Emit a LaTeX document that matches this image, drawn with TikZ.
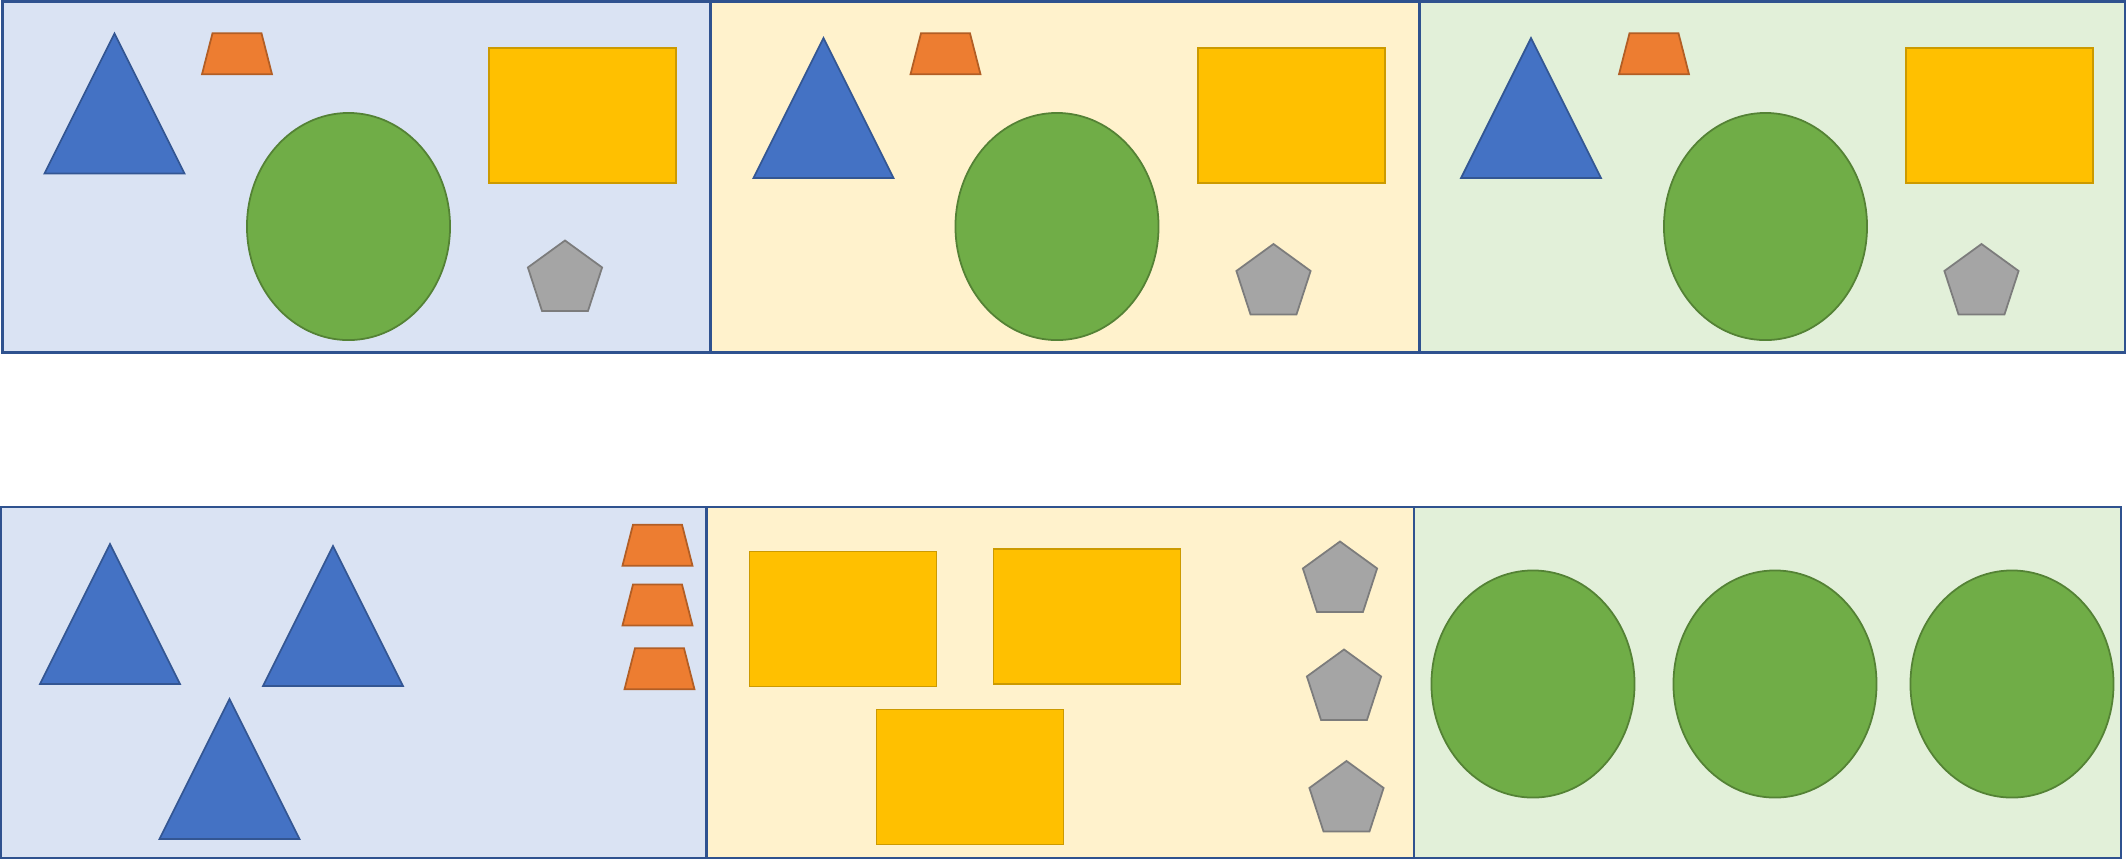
\documentclass[tikz,border=0pt]{standalone}
\usepackage{xcolor}
\usepackage{tikz}
\usetikzlibrary{shapes.geometric}

\definecolor{panelblue}{HTML}{DAE3F3}
\definecolor{panelyellow}{HTML}{FFF2CC}
\definecolor{panelgreen}{HTML}{E2F0D9}
\definecolor{frameblue}{HTML}{2F528F}
\definecolor{triblue}{HTML}{4472C4}
\definecolor{traporange}{HTML}{ED7D31}
\definecolor{ovalgreen}{HTML}{70AD47}
\definecolor{boxgold}{HTML}{FFC000}
\definecolor{pentgray}{HTML}{A5A5A5}

\begin{document}
\begin{tikzpicture}[
    x=0.01cm, y=-0.01cm,
    panel/.style={draw=frameblue, line width=0.8pt},
    shapeline/.style={line width=0.5pt},
    oval/.style={ellipse, draw=ovalgreen!75!black, fill=ovalgreen, shapeline, minimum width=2.03cm, minimum height=2.27cm, inner sep=0pt, outer sep=0pt},
    box/.style={rectangle, draw=boxgold!80!black, fill=boxgold, shapeline, minimum width=1.87cm, minimum height=1.35cm, inner sep=0pt, outer sep=0pt},
    penta/.style={regular polygon, regular polygon sides=5, draw=pentgray!75!black, fill=pentgray, shapeline, minimum size=0.78cm, inner sep=0pt, outer sep=0pt},
    tri/.pic={\path[draw=triblue!75!black, fill=triblue, shapeline] (-70,70) -- (0,-70) -- (70,70) -- cycle;},
    trap/.pic={\path[draw=traporange!75!black, fill=traporange, shapeline] (-35,20.5) -- (-24.5,-20.5) -- (24.5,-20.5) -- (35,20.5) -- cycle;}
]
\useasboundingbox (0,0) rectangle (2126,859);

% top row
\draw[panel, fill=panelblue] (2.5,1.5) rectangle (710.5,352.5);
\draw[panel, fill=panelyellow] (710.5,1.5) rectangle (1419.5,352.5);
\draw[panel, fill=panelgreen] (1419.5,1.5) rectangle (2125,352.5);

\pic (tri1) at (114.5,103.5) {tri};
\pic (trap1) at (237,53.8) {trap};
\node[oval] (oval1) at (348.5,226.5) {};
\node[box] (box1) at (582.5,115.8) {};
\node[penta] (pent1) at (565,279.5) {};

\pic (tri2) at (823.5,108) {tri};
\pic (trap2) at (945.5,53.8) {trap};
\node[oval] (oval2) at (1057,226.5) {};
\node[box] (box2) at (1291.5,115.8) {};
\node[penta] (pent2) at (1273.5,283) {};

\pic (tri3) at (1531,108) {tri};
\pic (trap3) at (1654,53.8) {trap};
\node[oval] (oval3) at (1765.5,226.5) {};
\node[box] (box3) at (1999.5,115.8) {};
\node[penta] (pent3) at (1981.5,283) {};

% bottom row
\draw[panel, fill=panelblue] (0.8,507) rectangle (706.5,858);
\draw[panel, fill=panelyellow] (706.5,507) rectangle (1414,858);
\draw[panel, fill=panelgreen] (1414,507) rectangle (2121,858);

\pic (tri4) at (110,614) {tri};
\pic (tri5) at (333,616) {tri};
\pic (tri6) at (229.5,769) {tri};
\pic (trap4) at (657.5,545.2) {trap};
\pic (trap5) at (657.5,605) {trap};
\pic (trap6) at (659.5,668.8) {trap};

\node[box] (box4) at (843,619) {};
\node[box] (box5) at (1087,616.5) {};
\node[box] (box6) at (970,777) {};
\node[penta] (pent4) at (1340,580.5) {};
\node[penta] (pent5) at (1344,688.5) {};
\node[penta] (pent6) at (1346.5,800) {};

\node[oval] (oval4) at (1533,684) {};
\node[oval] (oval5) at (1775,684) {};
\node[oval] (oval6) at (2012,684) {};
\end{tikzpicture}
\end{document}
